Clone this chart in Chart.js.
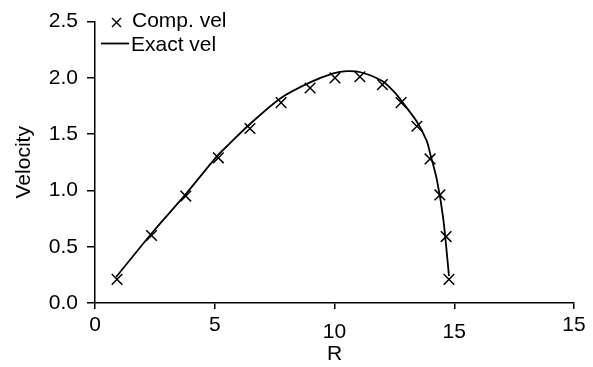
<!DOCTYPE html>
<html><head><meta charset="utf-8">
<script src="https://cdn.jsdelivr.net/npm/chart.js@4"></script>
<style>html,body{margin:0;padding:0;background:#fff}#wrap{width:593px;height:367px}</style>
</head><body><div id="wrap"><canvas id="c" width="593" height="367"></canvas></div>
<script>
const compR = [0.92, 2.36, 3.79, 5.15, 6.47, 7.77, 8.98, 10.02, 11.06, 12.0, 12.78, 13.44, 13.99, 14.4, 14.66, 14.78];
const compV = [0.21, 0.60, 0.95, 1.29, 1.55, 1.78, 1.91, 2.00, 2.01, 1.94, 1.78, 1.57, 1.28, 0.96, 0.59, 0.21];
const exactR = [0.88, 2.37, 3.80, 5.08, 5.64, 6.47, 7.75, 8.98, 9.95, 10.51, 11.09, 12.01, 12.6, 12.78, 13.44, 13.85, 13.99, 14.27, 14.54, 14.78];
const exactV = [0.23, 0.62, 0.97, 1.30, 1.42, 1.59, 1.82, 1.96, 2.04, 2.06, 2.05, 1.97, 1.85, 1.80, 1.61, 1.44, 1.33, 1.10, 0.75, 0.24];
const xTickLabels = ['0', '5', '10', '15', '15'];
const yTickLabels = ['0.0', '0.5', '1.0', '1.5', '2.0', '2.5'];
const seriesNames = ['Comp. vel', 'Exact vel'];

const FONT = '"Liberation Sans", Arial, sans-serif';
const FS = 21;

const legendPlugin = {
  id: 'insideLegend',
  afterDraw(chart) {
    const ctx = chart.ctx;
    ctx.save();
    ctx.strokeStyle = '#000';
    ctx.fillStyle = '#000';
    ctx.lineWidth = 1.4;
    const cx = 116.5, cy = 22.5, r = 4.5;
    ctx.beginPath();
    ctx.moveTo(cx - r, cy - r); ctx.lineTo(cx + r, cy + r);
    ctx.moveTo(cx - r, cy + r); ctx.lineTo(cx + r, cy - r);
    ctx.stroke();
    ctx.lineWidth = 1.8;
    ctx.beginPath();
    ctx.moveTo(101, 43.5); ctx.lineTo(129, 43.5);
    ctx.stroke();
    ctx.font = FS + 'px ' + FONT;
    ctx.textBaseline = 'middle';
    ctx.textAlign = 'left';
    ctx.fillText(chart.data.datasets[0].label, 132, 21);
    ctx.fillText(chart.data.datasets[1].label, 131, 45);
    ctx.restore();
  }
};

new Chart(document.getElementById('c'), {
  type: 'scatter',
  data: {
    datasets: [
      {
        label: seriesNames[0],
        data: compR.map((r, i) => ({x: r, y: compV[i]})),
        pointStyle: 'crossRot',
        pointRadius: 7.5,
        pointBorderWidth: 1.5,
        borderColor: '#000',
        backgroundColor: '#000',
        showLine: false
      },
      {
        label: seriesNames[1],
        data: exactR.map((r, i) => ({x: r, y: exactV[i]})),
        showLine: true,
        borderColor: '#000',
        borderWidth: 1.8,
        pointRadius: 0,
        tension: 0.3,
        fill: false
      }
    ]
  },
  options: {
    responsive: false,
    animation: false,
    devicePixelRatio: 1,
    layout: {padding: {left: 0, top: 15, right: 19, bottom: 0}},
    plugins: {legend: {display: false}, tooltip: {enabled: false}},
    scales: {
      x: {
        type: 'linear', min: 0, max: 20,
        afterFit: s => { s.height = 64; },
        afterBuildTicks: s => { s.ticks = xTickLabels.map((_, i) => ({value: i * 5})); },
        ticks: {
          color: '#000', padding: 4, maxRotation: 0, autoSkip: false,
          callback: (v, i) => xTickLabels[i],
          font: ctx => ({family: FONT, size: FS, lineHeight: (ctx.index === 2 || ctx.index === 3) ? '38px' : '24px'})
        },
        grid: {drawOnChartArea: false, drawTicks: true, tickLength: 6, color: '#000', lineWidth: 1.5},
        border: {display: true, color: '#000', width: 1.5},
        title: {display: true, text: 'R', color: '#000', font: {family: FONT, size: FS, lineHeight: '24px'}, padding: {top: 0, bottom: 1}}
      },
      y: {
        type: 'linear', min: 0, max: 2.5,
        afterFit: s => { s.width = 95; },
        afterBuildTicks: s => { s.ticks = yTickLabels.map((_, i) => ({value: i * 0.5})); },
        ticks: {
          color: '#000', padding: 9, autoSkip: false,
          callback: (v, i) => yTickLabels[i],
          font: {family: FONT, size: FS}
        },
        grid: {drawOnChartArea: false, drawTicks: true, tickLength: 8, color: '#000', lineWidth: 1.5},
        border: {display: true, color: '#000', width: 1.5},
        title: {display: true, text: 'Velocity', color: '#000', font: {family: FONT, size: FS, lineHeight: '24px'}, padding: {top: 12, bottom: 0}}
      }
    }
  },
  plugins: [legendPlugin]
});
</script>
</body></html>
